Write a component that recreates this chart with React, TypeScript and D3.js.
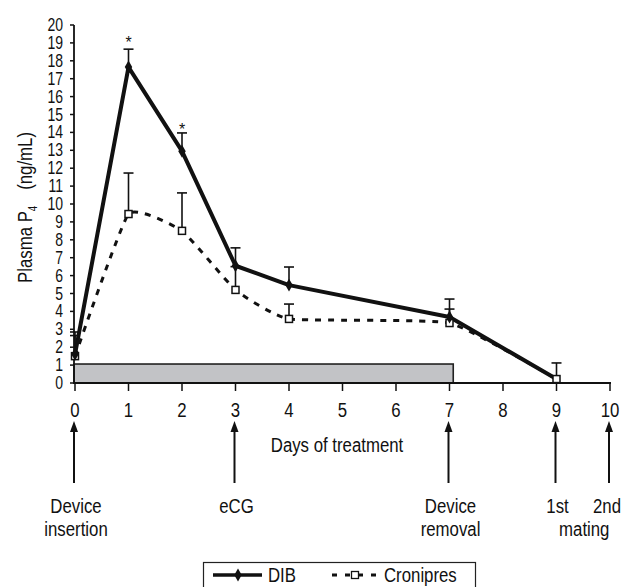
import React from "react";
import * as d3 from "d3";

const days = [0, 1, 2, 3, 4, 7, 9];
const dibMean = [1.6, 17.65, 12.95, 6.55, 5.47, 3.69, 0.22];
const dibErr = [1.25, 1.0, 1.02, 1.0, 1.01, 1.0, 0];
const croMean = [1.5, 9.44, 8.5, 5.2, 3.58, 3.35, 0.22];
const croErr = [1.15, 2.29, 2.12, 1.3, 0.83, 0.78, 0.9];
const starDays = [1, 2];
const starLevels = [19.2, 14.35];
const yTicks = d3.range(0, 21);
const xTicks = d3.range(0, 11);
const deviceBar = { start: 0, end: 7.07, level: 1.06 };
const eventDays = [0, 3, 7, 9, 10];
const eventLabels = [
  { day: 0, text: "Device", line: 0 },
  { day: 0, text: "insertion", line: 1 },
  { day: 3, text: "eCG", line: 0 },
  { day: 7, text: "Device", line: 0 },
  { day: 7, text: "removal", line: 1 },
  { day: 9, text: "1st", line: 0 },
  { day: 10, text: "2nd", line: 0 },
  { day: 9.5, text: "mating", line: 1 },
];

const REG = "'Liberation Sans', Arial, sans-serif";
const SQ = 0.8;

function NText(props: {
  x: number;
  y: number;
  anchor?: string;
  size?: number;
  rotate?: number;
  children: React.ReactNode;
}) {
  const { x, y, anchor = "start", size = 21, rotate = 0, children } = props;
  return (
    <text
      transform={`translate(${x},${y})${rotate ? ` rotate(${rotate})` : ""} scale(${SQ},1)`}
      textAnchor={anchor}
      fontFamily={REG}
      fontSize={size}
      fill="#111"
    >
      {children}
    </text>
  );
}

export default function App() {
  const W = 622, H = 587;
  const x = d3.scaleLinear().domain([0, 10]).range([75, 610]);
  const y = d3.scaleLinear().domain([0, 20]).range([383, 25]);

  const dibLine = d3.line<number>().x((_, i) => x(days[i])).y((d) => y(d))(dibMean) || "";
  const croLine =
    d3
      .line<number>()
      .x((_, i) => x(days[i]))
      .y((d) => y(d))
      .curve(d3.curveCardinal.tension(0.6))(croMean) || "";

  const diamond = d3.symbol().type(d3.symbolDiamond).size(48)() || "";

  const errBars = (means: number[], errs: number[], key: string) =>
    means.map((m, i) =>
      errs[i] > 0 ? (
        <g key={key + i} stroke="#111" strokeWidth={1.6}>
          <line x1={x(days[i])} x2={x(days[i])} y1={y(m)} y2={y(m + errs[i])} />
          <line x1={x(days[i]) - 5} x2={x(days[i]) + 5} y1={y(m + errs[i])} y2={y(m + errs[i])} />
        </g>
      ) : null
    );

  return (
    <svg width={W} height={H} style={{ position: "absolute", left: 0, top: 0, background: "#fff" }}>
      <rect x={0} y={0} width={W} height={H} fill="#fff" />
      {/* device bar */}
      <rect
        x={x(deviceBar.start) - 1}
        y={y(deviceBar.level)}
        width={x(deviceBar.end) - x(deviceBar.start) + 1}
        height={y(0) - y(deviceBar.level)}
        fill="#c2c3c6"
        stroke="#222"
        strokeWidth={1.6}
      />
      {/* y axis */}
      <line x1={74} x2={74} y1={y(20)} y2={y(0)} stroke="#111" strokeWidth={1.8} />
      {yTicks.map((t) => (
        <g key={"yt" + t}>
          <line x1={70} x2={74} y1={y(t)} y2={y(t)} stroke="#111" strokeWidth={1.5} />
          <NText x={63} y={y(t) + 6} anchor="end" size={17.5}>
            {t}
          </NText>
        </g>
      ))}
      {/* x axis */}
      <line x1={73} x2={x(10) + 1} y1={y(0)} y2={y(0)} stroke="#111" strokeWidth={1.8} />
      {xTicks.map((t) => (
        <g key={"xt" + t}>
          <line x1={x(t)} x2={x(t)} y1={y(0)} y2={y(0) + 8} stroke="#111" strokeWidth={1.5} />
          <NText x={x(t)} y={417} anchor="middle">
            {t}
          </NText>
        </g>
      ))}
      <NText x={337} y={452} anchor="middle">
        Days of treatment
      </NText>
      {/* y label */}
      <NText x={32} y={283} rotate={-90}>
        Plasma P
        <tspan fontSize={12} dy={5}>4</tspan>
        <tspan dx={20} dy={-5}>(ng/mL)</tspan>
      </NText>

      {/* Cronipres */}
      <path d={croLine} fill="none" stroke="#111" strokeWidth={3} strokeDasharray="6,7" />
      {/* DIB */}
      <path d={dibLine} fill="none" stroke="#111" strokeWidth={4} strokeLinejoin="round" />
      {errBars(croMean, croErr, "ce")}
      {errBars(dibMean, dibErr, "de")}
      {croMean.map((m, i) => (
        <rect
          key={"cm" + i}
          x={x(days[i]) - 3.5}
          y={y(m) - 3.5}
          width={7}
          height={7}
          fill="#fff"
          stroke="#111"
          strokeWidth={1.5}
        />
      ))}
      {dibMean.map((m, i) =>
        i === days.length - 1 ? null : (
          <path key={"dm" + i} d={diamond} transform={`translate(${x(days[i])},${y(m)})`} fill="#111" />
        )
      )}
      {starDays.map((d, i) => (
        <text key={"st" + i} x={x(d)} y={y(starLevels[i]) + 9} textAnchor="middle" fontFamily={REG} fontSize={16} fill="#111">
          *
        </text>
      ))}

      {/* event arrows */}
      {eventDays.map((d) => (
        <g key={"ev" + d}>
          <line x1={x(d) - 1} x2={x(d) - 1} y1={432} y2={483} stroke="#111" strokeWidth={2} />
          <path d={`M${x(d) - 1},421 L${x(d) - 5},432 L${x(d) + 3},432 Z`} fill="#111" />
        </g>
      ))}
      {eventLabels.map((l, i) => (
        <NText
          key={"el" + i}
          x={Math.min(x(l.day) + 1, W - 15)}
          y={l.line === 0 ? 513 : 536}
          anchor="middle"
        >
          {l.text}
        </NText>
      ))}

      {/* legend */}
      <rect x={203.5} y={562.5} width={272} height={40} fill="#fff" stroke="#222" strokeWidth={1.2} />
      <line x1={213} x2={262} y1={575} y2={575} stroke="#111" strokeWidth={3.5} />
      <path d={diamond} transform="translate(238,575)" fill="#111" />
      <NText x={268} y={582}>DIB</NText>
      <line x1={332} x2={378} y1={575} y2={575} stroke="#111" strokeWidth={3} strokeDasharray="5,8" />
      <rect x={351.5} y={571.5} width={7} height={7} fill="#fff" stroke="#111" strokeWidth={1.3} />
      <NText x={384} y={582}>Cronipres</NText>
    </svg>
  );
}
